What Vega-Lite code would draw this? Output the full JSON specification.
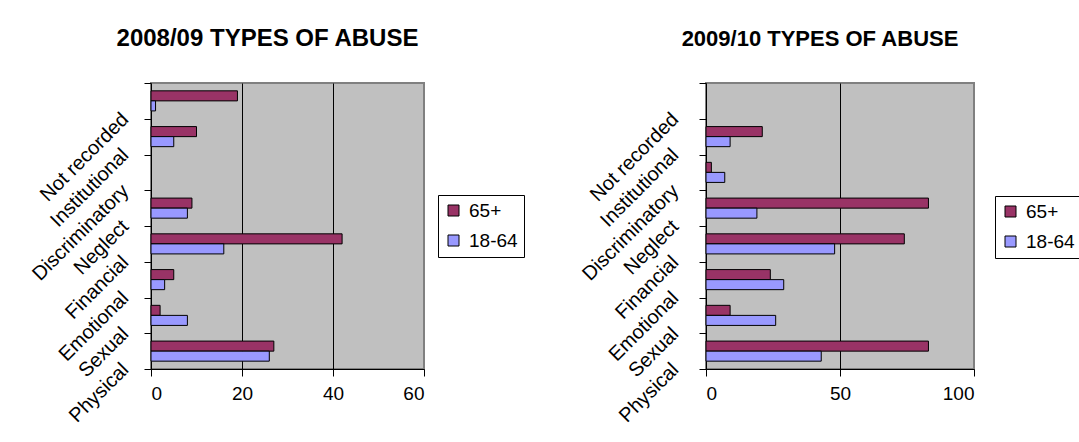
{
  "$schema": "https://vega.github.io/schema/vega-lite/v6.json",
  "background": "white",
  "padding": {"left": 27, "top": 25, "right": 0, "bottom": 0},
  "config": {
    "font": "Liberation Sans",
    "view": {"fill": "#C0C0C0", "stroke": "#808080", "strokeWidth": 2},
    "axis": {"domainColor": "black", "tickColor": "black", "labelColor": "black", "labelFontSize": 19, "labelFont": "Liberation Sans", "tickSize": 7, "title": null},
    "title": {"fontSize": 24, "fontWeight": "bold", "color": "black", "font": "Liberation Sans"},
    "legend": {"labelFontSize": 19, "labelColor": "black", "labelFont": "Liberation Sans", "symbolType": "square", "symbolSize": 121, "symbolStrokeColor": "black", "symbolStrokeWidth": 1, "strokeColor": "black", "fillColor": "white", "padding": 6, "rowPadding": 10, "labelOffset": 6}
  },
  "datasets": {
    "y0809": [
      {"type": "Not recorded", "age": "65+", "value": 19},
      {"type": "Not recorded", "age": "18-64", "value": 1},
      {"type": "Institutional", "age": "65+", "value": 10},
      {"type": "Institutional", "age": "18-64", "value": 5},
      {"type": "Neglect", "age": "65+", "value": 9},
      {"type": "Neglect", "age": "18-64", "value": 8},
      {"type": "Financial", "age": "65+", "value": 42},
      {"type": "Financial", "age": "18-64", "value": 16},
      {"type": "Emotional", "age": "65+", "value": 5},
      {"type": "Emotional", "age": "18-64", "value": 3},
      {"type": "Sexual", "age": "65+", "value": 2},
      {"type": "Sexual", "age": "18-64", "value": 8},
      {"type": "Physical", "age": "65+", "value": 27},
      {"type": "Physical", "age": "18-64", "value": 26}
    ],
    "y0910": [
      {"type": "Institutional", "age": "65+", "value": 21},
      {"type": "Institutional", "age": "18-64", "value": 9},
      {"type": "Discriminatory", "age": "65+", "value": 2},
      {"type": "Discriminatory", "age": "18-64", "value": 7},
      {"type": "Neglect", "age": "65+", "value": 83},
      {"type": "Neglect", "age": "18-64", "value": 19},
      {"type": "Financial", "age": "65+", "value": 74},
      {"type": "Financial", "age": "18-64", "value": 48},
      {"type": "Emotional", "age": "65+", "value": 24},
      {"type": "Emotional", "age": "18-64", "value": 29},
      {"type": "Sexual", "age": "65+", "value": 9},
      {"type": "Sexual", "age": "18-64", "value": 26},
      {"type": "Physical", "age": "65+", "value": 83},
      {"type": "Physical", "age": "18-64", "value": 43}
    ]
  },
  "spacing": 51,
  "resolve": {"legend": {"color": "independent"}},
  "hconcat": [
    {
      "title": {"text": "2008/09 TYPES OF ABUSE", "offset": 25, "dx": -20},
      "width": 273,
      "height": 286,
      "data": {"name": "y0809"},
      "mark": {"type": "bar", "stroke": "black", "strokeWidth": 1},
      "encoding": {
        "y": {"field": "type", "type": "nominal", "scale": {"domain": ["Not recorded", "Institutional", "Discriminatory", "Neglect", "Financial", "Emotional", "Sexual", "Physical"], "paddingInner": 0, "paddingOuter": 0}, "axis": {"labelAngle": -45, "labelAlign": "right", "labelBaseline": "middle", "tickBand": "extent", "labelPadding": 19, "labelOffset": 15, "labelFontSize": 20}},
        "yOffset": {"field": "age", "type": "nominal", "scale": {"domain": ["65+", "18-64"], "paddingInner": 0, "paddingOuter": 0.78}},
        "x": {"field": "value", "type": "quantitative", "scale": {"domain": [0, 60]}, "axis": {"values": [0, 20, 40, 60], "grid": true, "gridColor": {"condition": {"test": "datum.value == 60 || datum.value == 0", "value": "transparent"}, "value": "black"}, "gridOpacity": 1, "labelPadding": 8}},
        "color": {"field": "age", "type": "nominal", "scale": {"domain": ["65+", "18-64"], "range": ["#993366", "#9999FF"]}, "legend": {"title": null, "orient": "none", "legendX": 287, "legendY": 112}}
      }
    },
    {
      "title": {"text": "2009/10 TYPES OF ABUSE", "offset": 25, "dx": -20, "fontSize": 22},
      "width": 268,
      "height": 286,
      "data": {"name": "y0910"},
      "mark": {"type": "bar", "stroke": "black", "strokeWidth": 1},
      "encoding": {
        "y": {"field": "type", "type": "nominal", "scale": {"domain": ["Not recorded", "Institutional", "Discriminatory", "Neglect", "Financial", "Emotional", "Sexual", "Physical"], "paddingInner": 0, "paddingOuter": 0}, "axis": {"labelAngle": -45, "labelAlign": "right", "labelBaseline": "middle", "tickBand": "extent", "labelPadding": 24, "labelOffset": 15, "labelFontSize": 20}},
        "yOffset": {"field": "age", "type": "nominal", "scale": {"domain": ["65+", "18-64"], "paddingInner": 0, "paddingOuter": 0.78}},
        "x": {"field": "value", "type": "quantitative", "scale": {"domain": [0, 100]}, "axis": {"values": [0, 50, 100], "grid": true, "gridColor": {"condition": {"test": "datum.value == 100 || datum.value == 0", "value": "transparent"}, "value": "black"}, "gridOpacity": 1, "labelPadding": 8}},
        "color": {"field": "age", "type": "nominal", "scale": {"domain": ["65+", "18-64"], "range": ["#993366", "#9999FF"]}, "legend": {"title": null, "orient": "none", "legendX": 289, "legendY": 113}}
      }
    }
  ]
}
